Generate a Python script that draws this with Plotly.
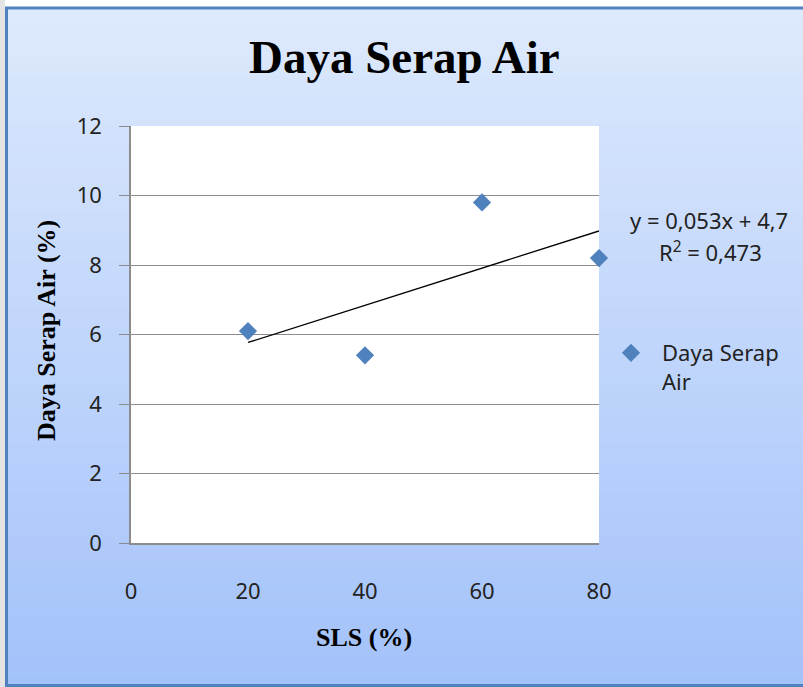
import numpy as np
import plotly.graph_objects as go

# ---- data ----
sls = [20, 40, 60, 80]                 # SLS (%)
daya_serap = [6.1, 5.4, 9.8, 8.2]      # Daya Serap Air (%)
x_ticks = [0, 20, 40, 60, 80]
y_ticks = [0, 2, 4, 6, 8, 10, 12]
series_name = "Daya Serap<br>Air"
chart_title = "Daya Serap Air"
x_title = "SLS (%)"
y_title = "Daya Serap Air (%)"
eq_line1 = "y = 0,053x + 4,7"
eq_line2 = "R<sup>2</sup> = 0,473"

# linear trendline from the data
slope, intercept = np.polyfit(sls, daya_serap, 1)
trend_x = [min(sls), max(sls)]
trend_y = [slope * v + intercept for v in trend_x]

W, H = 803, 687
L, R, T, B = 131, 599, 126, 543   # plot area in pixels
pw, ph = R - L, B - T


def px(xp):
    return (xp - L) / pw


def py(yp):
    return (B - yp) / ph


fig = go.Figure()
fig.add_trace(go.Scatter(
    x=trend_x, y=trend_y, mode="lines",
    line=dict(color="#000000", width=1.3),
    showlegend=False, hoverinfo="skip",
))
fig.add_trace(go.Scatter(
    x=sls, y=daya_serap, mode="markers", name=series_name,
    marker=dict(symbol="diamond", size=14, color="#4f81bd"),
    cliponaxis=False,
))

shapes = []
# background gradient
top_c = np.array([0xdd, 0xe9, 0xfc])
bot_c = np.array([0xa3, 0xc2, 0xfa])
y_top, y_bot = 8, 686
n = 70
for i in range(n):
    t = i / (n - 1)
    c = top_c + (bot_c - top_c) * t
    y0 = y_top + (y_bot - y_top) * i / n
    y1 = y_top + (y_bot - y_top) * (i + 1) / n + 1
    shapes.append(dict(
        type="rect", xref="paper", yref="paper", layer="below",
        x0=px(6), x1=px(W + 20), y0=py(min(y1, y_bot)), y1=py(y0),
        fillcolor="rgb(%d,%d,%d)" % tuple(int(round(v)) for v in c),
        line=dict(width=0),
    ))
# border
shapes.append(dict(
    type="rect", xref="paper", yref="paper", layer="below",
    x0=px(6.5), x1=px(W + 20), y0=py(685.5), y1=py(8),
    fillcolor="rgba(0,0,0,0)", line=dict(color="#4f81bd", width=3),
))
# left outside strip
shapes.append(dict(
    type="rect", xref="paper", yref="paper", layer="below",
    x0=px(0), x1=px(5), y0=py(H), y1=py(0),
    fillcolor="#e4e4e4", line=dict(width=0),
))
# white plot area
shapes.append(dict(
    type="rect", xref="paper", yref="paper", layer="below",
    x0=0, x1=1, y0=0, y1=1, fillcolor="#ffffff", line=dict(width=0),
))

annotations = [
    dict(text="<b>%s</b>" % chart_title, xref="paper", yref="paper",
         x=px(404), y=py(57), xanchor="center", yanchor="middle",
         showarrow=False,
         font=dict(family="Liberation Serif", size=47, color="#000000")),
    dict(text="<b>%s</b>" % x_title, xref="paper", yref="paper",
         x=px(364), y=py(637), xanchor="center", yanchor="middle",
         showarrow=False,
         font=dict(family="Liberation Serif", size=26, color="#000000")),
    dict(text="<b>%s</b>" % y_title, xref="paper", yref="paper",
         x=px(46), y=py(331), xanchor="center", yanchor="middle",
         textangle=-90, showarrow=False,
         font=dict(family="Liberation Serif", size=26, color="#000000")),
    dict(text=eq_line1, xref="paper", yref="paper",
         x=px(709), y=py(220), xanchor="center", yanchor="middle",
         showarrow=False,
         font=dict(family="Noto Sans", size=22, color="#222222")),
    dict(text=eq_line2, xref="paper", yref="paper",
         x=px(710), y=py(251), xanchor="center", yanchor="middle",
         showarrow=False,
         font=dict(family="Noto Sans", size=22, color="#222222")),
]

fig.update_layout(
    width=W, height=H,
    margin=dict(l=L, r=W - R, t=T, b=H - B, pad=0),
    paper_bgcolor="#ffffff",
    plot_bgcolor="rgba(0,0,0,0)",
    shapes=shapes,
    annotations=annotations,
    showlegend=True,
    legend=dict(
        x=px(600), y=py(332), xanchor="left", yanchor="top",
        valign="top", itemwidth=52,
        bgcolor="rgba(0,0,0,0)",
        font=dict(family="Noto Sans", size=22, color="#222222"),
    ),
    font=dict(family="Noto Sans", color="#222222"),
)
fig.update_xaxes(
    range=[0, 80], tickvals=x_ticks, ticktext=[str(v) for v in x_ticks],
    showgrid=False, zeroline=False,
    showline=True, linecolor="#8c8c8c", linewidth=1.5,
    ticks="", ticklabelstandoff=28,
    tickfont=dict(family="Noto Sans", size=22, color="#222222"),
)
fig.update_yaxes(
    range=[0, 12], tickvals=y_ticks, ticktext=[str(v) for v in y_ticks],
    showgrid=True, gridcolor="#8c8c8c", gridwidth=1,
    zeroline=False,
    showline=True, linecolor="#8c8c8c", linewidth=1.5,
    ticks="outside", ticklen=10, tickcolor="#8c8c8c", tickwidth=1,
    ticklabelstandoff=13,
    tickfont=dict(family="Noto Sans", size=22, color="#222222"),
)

fig.write_html("out.html", config={"displayModeBar": False},
               post_script="document.body.style.margin='0';")
